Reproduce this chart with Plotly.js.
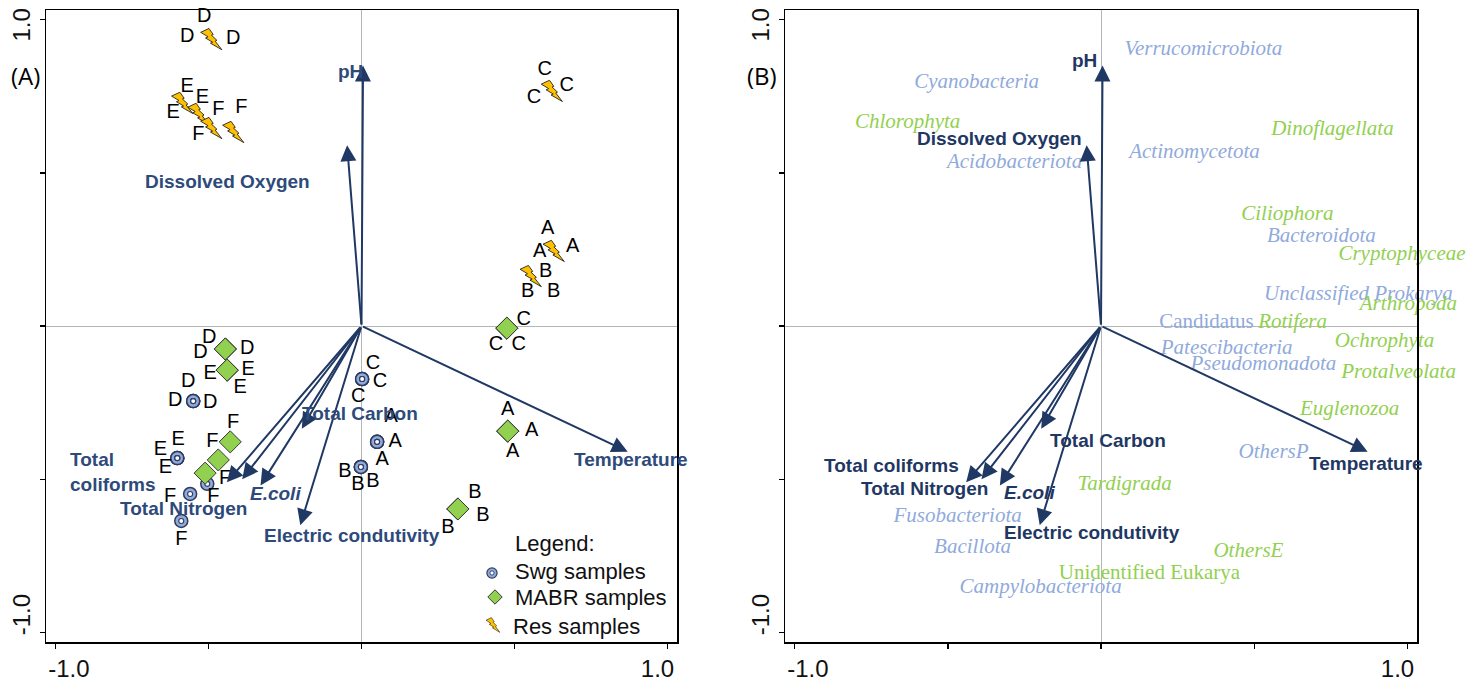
<!DOCTYPE html>
<html><head><meta charset="utf-8">
<script src="https://cdn.plot.ly/plotly-3.0.1.min.js"></script>
<style>html,body{margin:0;padding:0;background:#fff}#chart{width:1472px;height:684px}</style>
</head><body><div id="chart"></div>
<script>
// ---------------- data ----------------
const sampleLabels = ['A','A','A','B','B','B','C','C','C','D','D','D','E','E','E','F','F','F'];
const swgX  = [0.051,0.051,0.051,-0.002,-0.002,-0.002,0.002,0.002,0.002,-0.550,-0.550,-0.550,-0.602,-0.602,-0.602,-0.504,-0.560,-0.589];
const swgY  = [-0.378,-0.378,-0.378,-0.460,-0.460,-0.460,-0.173,-0.173,-0.173,-0.245,-0.245,-0.245,-0.431,-0.431,-0.431,-0.515,-0.548,-0.636];
const mabrX = [0.478,0.478,0.478,0.315,0.315,0.315,0.475,0.475,0.475,-0.445,-0.445,-0.445,-0.439,-0.439,-0.439,-0.429,-0.468,-0.511];
const mabrY = [-0.343,-0.343,-0.343,-0.597,-0.597,-0.597,-0.007,-0.007,-0.007,-0.075,-0.075,-0.075,-0.144,-0.144,-0.144,-0.378,-0.437,-0.480];
const resX  = [0.628,0.628,0.628,0.553,0.553,0.553,0.622,0.622,0.622,-0.491,-0.491,-0.491,-0.586,-0.586,-0.533,-0.491,-0.491,-0.419];
const resY  = [0.245,0.245,0.245,0.163,0.163,0.163,0.767,0.767,0.767,0.936,0.936,0.936,0.728,0.728,0.692,0.646,0.646,0.633];

const envNames = ['pH','Dissolved Oxygen','Temperature','Electric condutivity','Total Carbon','E.coli','Total Nitrogen','Total coliforms'];
const envX = [0.005,-0.047,0.87,-0.20,-0.195,-0.33,-0.39,-0.44];
const envY = [0.85,0.59,-0.41,-0.65,-0.335,-0.52,-0.50,-0.51];

const prokNames = ['Cyanobacteria','Acidobacteriota','Verrucomicrobiota','Actinomycetota','Bacteroidota','Unclassified Prokarya','Candidatus','Patescibacteria','Pseudomonadota','OthersP','Fusobacteriota','Bacillota','Campylobacteriota'];
const prokX = [-0.406,-0.282,0.334,0.305,0.719,0.840,0.344,0.410,0.530,0.563,-0.468,-0.419,-0.197];
const prokY = [0.793,0.532,0.900,0.564,0.290,0.101,0.010,-0.075,-0.127,-0.414,-0.623,-0.724,-0.855];
const eukNames = ['Chlorophyta','Dinoflagellata','Ciliophora','Cryptophyceae','Arthropoda','Rotifera','Ochrophyta','Protalveolata','Euglenozoa','Tardigrada','OthersE','Unidentified Eukarya'];
const eukX = [-0.631,0.755,0.608,0.982,1.003,0.625,0.925,0.971,0.811,0.077,0.481,0.158];
const eukY = [0.662,0.639,0.362,0.232,0.069,0.010,-0.052,-0.153,-0.274,-0.519,-0.737,-0.809];

// ---------------- styling / placement ----------------
// sample-label offsets from their point, in screen pixels [dx, dy]
const swgOff  = [[14,-25],[18,0],[5,18],[-16,5],[-3,18],[12,15],[11,-15],[18,3],[-4,18],[-5,-19],[-18,0],[17,2],[1,-18],[-17,-8],[-12,10],[6,13],[-20,3],[0,19]];
const mabrOff = [[0,-21],[24,0],[5,21],[17,-16],[25,7],[-10,19],[17,-8],[-11,17],[12,17],[-16,-11],[-25,4],[22,0],[-17,4],[21,0],[13,18],[3,-19],[-6,-18],[20,6]];
const resOff  = [[-6,-22],[-14,1],[19,-4],[15,-4],[-3,16],[23,16],[-7,-21],[15,-5],[-18,7],[-7,-22],[-24,-2],[22,0],[5,-16],[-9,10],[4,-16],[7,-18],[-13,7],[8,-24]];
const PXU = 306.5; // pixels per axis unit
const prokItalic = [1,1,1,1,1,1,0,1,1,1,1,1,1];
const eukItalic  = [1,1,1,1,1,1,1,1,1,1,1,0];
// label centres for the environmental vectors [x, y] in axis units
const envLabA = [[-0.0375,0.829],[-0.439,0.470],[0.881,-0.437],[-0.031,-0.682],[-0.005,-0.284],[-0.282,-0.545],[-0.582,-0.594],[-0.958,-0.476]];
const envLabB = [[-0.054,0.865],[-0.331,0.613],[0.863,-0.447],[-0.028,-0.675],[0.024,-0.372],[-0.233,-0.542],[-0.576,-0.529],[-0.684,-0.454]];

const NAVY = '#1F3864';
const LAB_A = '#2D4A7A';
const LAB_B = '#1F3763';
const BLUE = '#8FAADC';
const GREEN = '#92D050';
const SANS = 'Liberation Sans, Arial, sans-serif';
const SERIF = 'Liberation Serif, Times New Roman, serif';

const boltSvg = '<svg xmlns="http://www.w3.org/2000/svg" viewBox="-4 -4 108 108" preserveAspectRatio="none"><path d="M39.2,0 L0,18.2 L35,39 L23.1,45 L56.5,64.4 L46.2,69.1 L100,100 L68.4,59.8 L76.6,55.6 L51.1,31.7 L59.4,28.3 Z" fill="#FFC000" stroke="#1a1a1a" stroke-width="4" stroke-linejoin="miter"/></svg>';
const boltURI = 'data:image/svg+xml;base64,' + btoa(boltSvg);
const swgSvg = '<svg xmlns="http://www.w3.org/2000/svg" viewBox="0 0 20 20"><circle cx="10" cy="10" r="8.5" fill="#8FAADC" stroke="#2F3B5C" stroke-width="2"/><circle cx="10" cy="10" r="3.5" fill="#fff" stroke="#2F3B5C" stroke-width="1.5"/></svg>';
const diaSvg = '<svg xmlns="http://www.w3.org/2000/svg" viewBox="0 0 20 20"><path d="M10,1 L19,10 L10,19 L1,10 Z" fill="#92D050" stroke="#333" stroke-width="1.2"/></svg>';

const nb = '\u00a0';
function axisX(domain, anchor) {
  return {domain: domain, anchor: anchor, range: [-1.031, 1.031], tickvals: [-1,-0.5,0,0.5,1],
    ticktext: [nb+nb+nb+nb+'-1.0','','','','1.0'+nb+nb+nb], ticks: 'outside', ticklen: 5, tickwidth: 1.5, tickcolor: '#000',
    showline: true, linecolor: '#000', linewidth: 1.5, mirror: true, showgrid: false,
    zeroline: true, zerolinecolor: '#b5b5b5', zerolinewidth: 1, ticklabelstandoff: 0, ticklabeloverflow: 'allow',
    tickfont: {family: SANS, size: 24, color: '#111'}, fixedrange: true};
}
function axisY(anchor) {
  return {domain: [0,1], anchor: anchor, range: [-1.031, 1.031], tickvals: [-1,-0.5,0,0.5,1],
    ticktext: [nb+nb+nb+nb+nb+nb+nb+'-1.0','','','','1.0'], tickangle: -90, ticks: 'outside', ticklen: 5, tickwidth: 1.5, tickcolor: '#000',
    showline: true, linecolor: '#000', linewidth: 1.5, mirror: true, showgrid: false, ticklabeloverflow: 'allow',
    ticklabelshift: 9,
    zeroline: true, zerolinecolor: '#b5b5b5', zerolinewidth: 1,
    tickfont: {family: SANS, size: 24, color: '#111'}, fixedrange: true};
}

const labelFont = {family: SANS, size: 20, color: '#000'};
function labelTrace(xs, ys, off) {
  return {x: xs.map((v, i) => v + off[i][0] / PXU), y: ys.map((v, i) => v - off[i][1] / PXU),
    xaxis: 'x', yaxis: 'y', type: 'scatter', mode: 'text', text: sampleLabels, textposition: 'middle center',
    textfont: labelFont, cliponaxis: false, hoverinfo: 'skip'};
}
const traces = [
  {x: swgX, y: swgY, xaxis: 'x', yaxis: 'y', type: 'scatter', mode: 'markers', cliponaxis: false, hoverinfo: 'skip',
   marker: {symbol: 'circle', size: 13, color: BLUE, line: {color: '#2F3B5C', width: 1.5}}},
  {x: swgX, y: swgY, xaxis: 'x', yaxis: 'y', type: 'scatter', mode: 'markers', hoverinfo: 'skip', cliponaxis: false,
   marker: {symbol: 'circle', size: 5, color: '#fff', line: {color: '#2F3B5C', width: 1.1}}},
  {x: mabrX, y: mabrY, xaxis: 'x', yaxis: 'y', type: 'scatter', mode: 'markers', cliponaxis: false, hoverinfo: 'skip',
   marker: {symbol: 'diamond', size: 17, color: GREEN, line: {color: '#3a3a3a', width: 1}}},
  labelTrace(swgX, swgY, swgOff),
  labelTrace(mabrX, mabrY, mabrOff),
  labelTrace(resX, resY, resOff),
  {x: prokX, y: prokY, xaxis: 'x2', yaxis: 'y2', type: 'scatter', mode: 'text', cliponaxis: false, hoverinfo: 'skip',
   text: prokNames.map((n,i) => prokItalic[i] ? '<i>'+n+'</i>' : n), textposition: 'middle center',
   textfont: {family: SERIF, size: 21, color: BLUE}},
  {x: eukX, y: eukY, xaxis: 'x2', yaxis: 'y2', type: 'scatter', mode: 'text', cliponaxis: false, hoverinfo: 'skip',
   text: eukNames.map((n,i) => eukItalic[i] ? '<i>'+n+'</i>' : n), textposition: 'middle center',
   textfont: {family: SERIF, size: 21, color: GREEN}}
];

const annotations = [];
function addEnv(xr, yr, labPos, color) {
  envNames.forEach((n, i) => {
    annotations.push({xref: xr, yref: yr, axref: xr, ayref: yr, x: envX[i], y: envY[i], ax: 0, ay: 0,
      showarrow: true, arrowhead: 2, arrowsize: 1.6, arrowwidth: 2, arrowcolor: NAVY, standoff: 0, text: ''});
  });
  envNames.forEach((n, i) => {
    let txt = n === 'E.coli' ? '<b><i>'+n+'</i></b>' : '<b>'+n+'</b>';
    const a = {xref: xr, yref: yr, x: labPos[i][0], y: labPos[i][1], showarrow: false, text: txt,
      font: {family: SANS, size: 19, color: color}, xanchor: 'center', yanchor: 'middle'};
    if (xr === 'x' && n === 'Total coliforms') { a.text = '<b>Total<br>coliforms</b>'; a.xanchor = 'left'; a.align = 'left'; }
    annotations.push(a);
  });
}
addEnv('x', 'y', envLabA, LAB_A);
addEnv('x2', 'y2', envLabB, LAB_B);

// panel letters
annotations.push({xref: 'paper', yref: 'paper', x: -0.0153, y: 0.897, xanchor: 'center', yanchor: 'middle', text: '(A)', showarrow: false,
  font: {family: 'Open Sans, Liberation Sans, sans-serif', size: 24, color: '#000'}});
annotations.push({xref: 'paper', yref: 'paper', x: 0.5223, y: 0.897, xanchor: 'center', yanchor: 'middle', text: '(B)', showarrow: false,
  font: {family: 'Open Sans, Liberation Sans, sans-serif', size: 24, color: '#000'}});
// legend texts
const legFont = {family: SANS, size: 22, color: '#111'};
[['Legend:', 0.3406, 0.1566], ['Swg samples', 0.3406, 0.1123], ['MABR samples', 0.3406, 0.0712], ['Res samples', 0.3392, 0.0253]]
  .forEach(t => annotations.push({xref: 'paper', yref: 'paper', x: t[1], y: t[2], xanchor: 'left', yanchor: 'middle',
    text: t[0], showarrow: false, font: legFont}));

const images = resX.map((x, i) => ({source: boltURI, xref: 'x', yref: 'y', x: x, y: resY[i], sizex: 0.075, sizey: 0.075,
  xanchor: 'center', yanchor: 'middle', sizing: 'stretch', layer: 'below'}));
images.push({source: 'data:image/svg+xml;base64,' + btoa(swgSvg), xref: 'paper', yref: 'paper', x: 0.3253, y: 0.1092,
  sizex: 12/1371, sizey: 12/632, xanchor: 'center', yanchor: 'middle', sizing: 'stretch', layer: 'above'});
images.push({source: 'data:image/svg+xml;base64,' + btoa(diaSvg), xref: 'paper', yref: 'paper', x: 0.3275, y: 0.0712,
  sizex: 16/1371, sizey: 16/632, xanchor: 'center', yanchor: 'middle', sizing: 'stretch', layer: 'above'});
images.push({source: boltURI, xref: 'paper', yref: 'paper', x: 0.3260, y: 0.0269,
  sizex: 15/1371, sizey: 16/632, xanchor: 'center', yanchor: 'middle', sizing: 'stretch', layer: 'above'});

const layout = {
  width: 1472, height: 684, margin: {l: 46, r: 55, t: 10, b: 42},
  paper_bgcolor: '#fff', plot_bgcolor: 'rgba(0,0,0,0)', showlegend: false, hovermode: false,
  xaxis: axisX([0, 0.46025], 'y'), yaxis: axisY('x'),
  xaxis2: axisX([0.53903, 1], 'y2'), yaxis2: axisY('x2'),
  annotations: annotations, images: images
};
Plotly.newPlot('chart', traces, layout, {displayModeBar: false, staticPlot: true});
</script></body></html>
